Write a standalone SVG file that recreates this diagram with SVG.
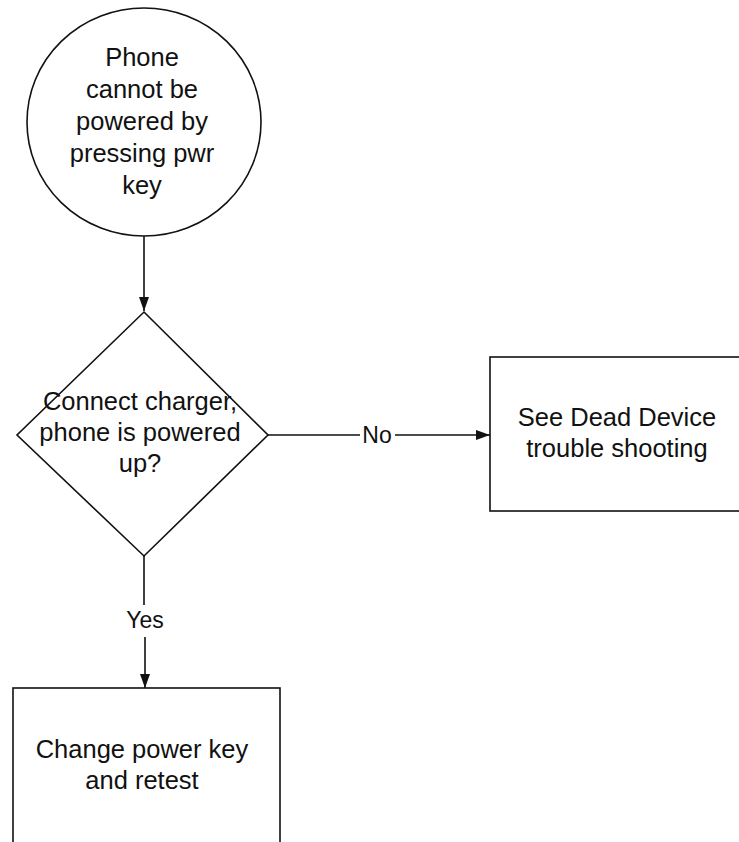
<svg xmlns="http://www.w3.org/2000/svg" width="739" height="842" viewBox="0 0 739 842">
<style>
.shape{fill:#fff;stroke:#111;stroke-width:1.6}
.t{font-family:"Liberation Sans",Arial,sans-serif;font-size:25.5px;fill:#111;text-anchor:middle}
.lbl{font-family:"Liberation Sans",Arial,sans-serif;font-size:23px;fill:#111;text-anchor:middle}
.edge{stroke:#111;stroke-width:1.6;fill:none}
</style>
<defs>
<marker id="ah" markerWidth="14" markerHeight="10" refX="14" refY="5" orient="auto" markerUnits="userSpaceOnUse">
<path d="M0,0 L14,5 L0,10 Z" fill="#111"/>
</marker>
</defs>
<rect width="739" height="842" fill="#fff"/>
<g id="start">
<ellipse class="shape" cx="144" cy="122" rx="117" ry="114"/>
<text class="t" x="142" y="66">Phone</text>
<text class="t" x="142" y="98">cannot be</text>
<text class="t" x="142" y="130">powered by</text>
<text class="t" x="142" y="162">pressing pwr</text>
<text class="t" x="142" y="194">key</text>
</g>
<g id="decision">
<polygon class="shape" points="144,312 268,435 144,556 17,435"/>
<text class="t" x="140" y="410">Connect charger,</text>
<text class="t" x="140" y="441">phone is powered</text>
<text class="t" x="140" y="472">up?</text>
</g>
<g id="dead">
<rect class="shape" x="490" y="357" width="260" height="154"/>
<text class="t" x="617" y="426">See Dead Device</text>
<text class="t" x="617" y="457">trouble shooting</text>
</g>
<g id="change">
<rect class="shape" x="13" y="688" width="267" height="170"/>
<text class="t" x="142" y="758">Change power key</text>
<text class="t" x="142" y="789">and retest</text>
</g>
<g id="connectors">
<line class="edge" x1="144" y1="236" x2="144" y2="311" marker-end="url(#ah)"/>
<line class="edge" x1="268" y1="435" x2="360" y2="435"/>
<line class="edge" x1="395" y1="435" x2="490" y2="435" marker-end="url(#ah)"/>
<text class="lbl" x="377" y="443">No</text>
<line class="edge" x1="144" y1="556" x2="144" y2="605"/>
<line class="edge" x1="145" y1="637" x2="145" y2="688" marker-end="url(#ah)"/>
<text class="lbl" x="145" y="628">Yes</text>
</g>
</svg>
